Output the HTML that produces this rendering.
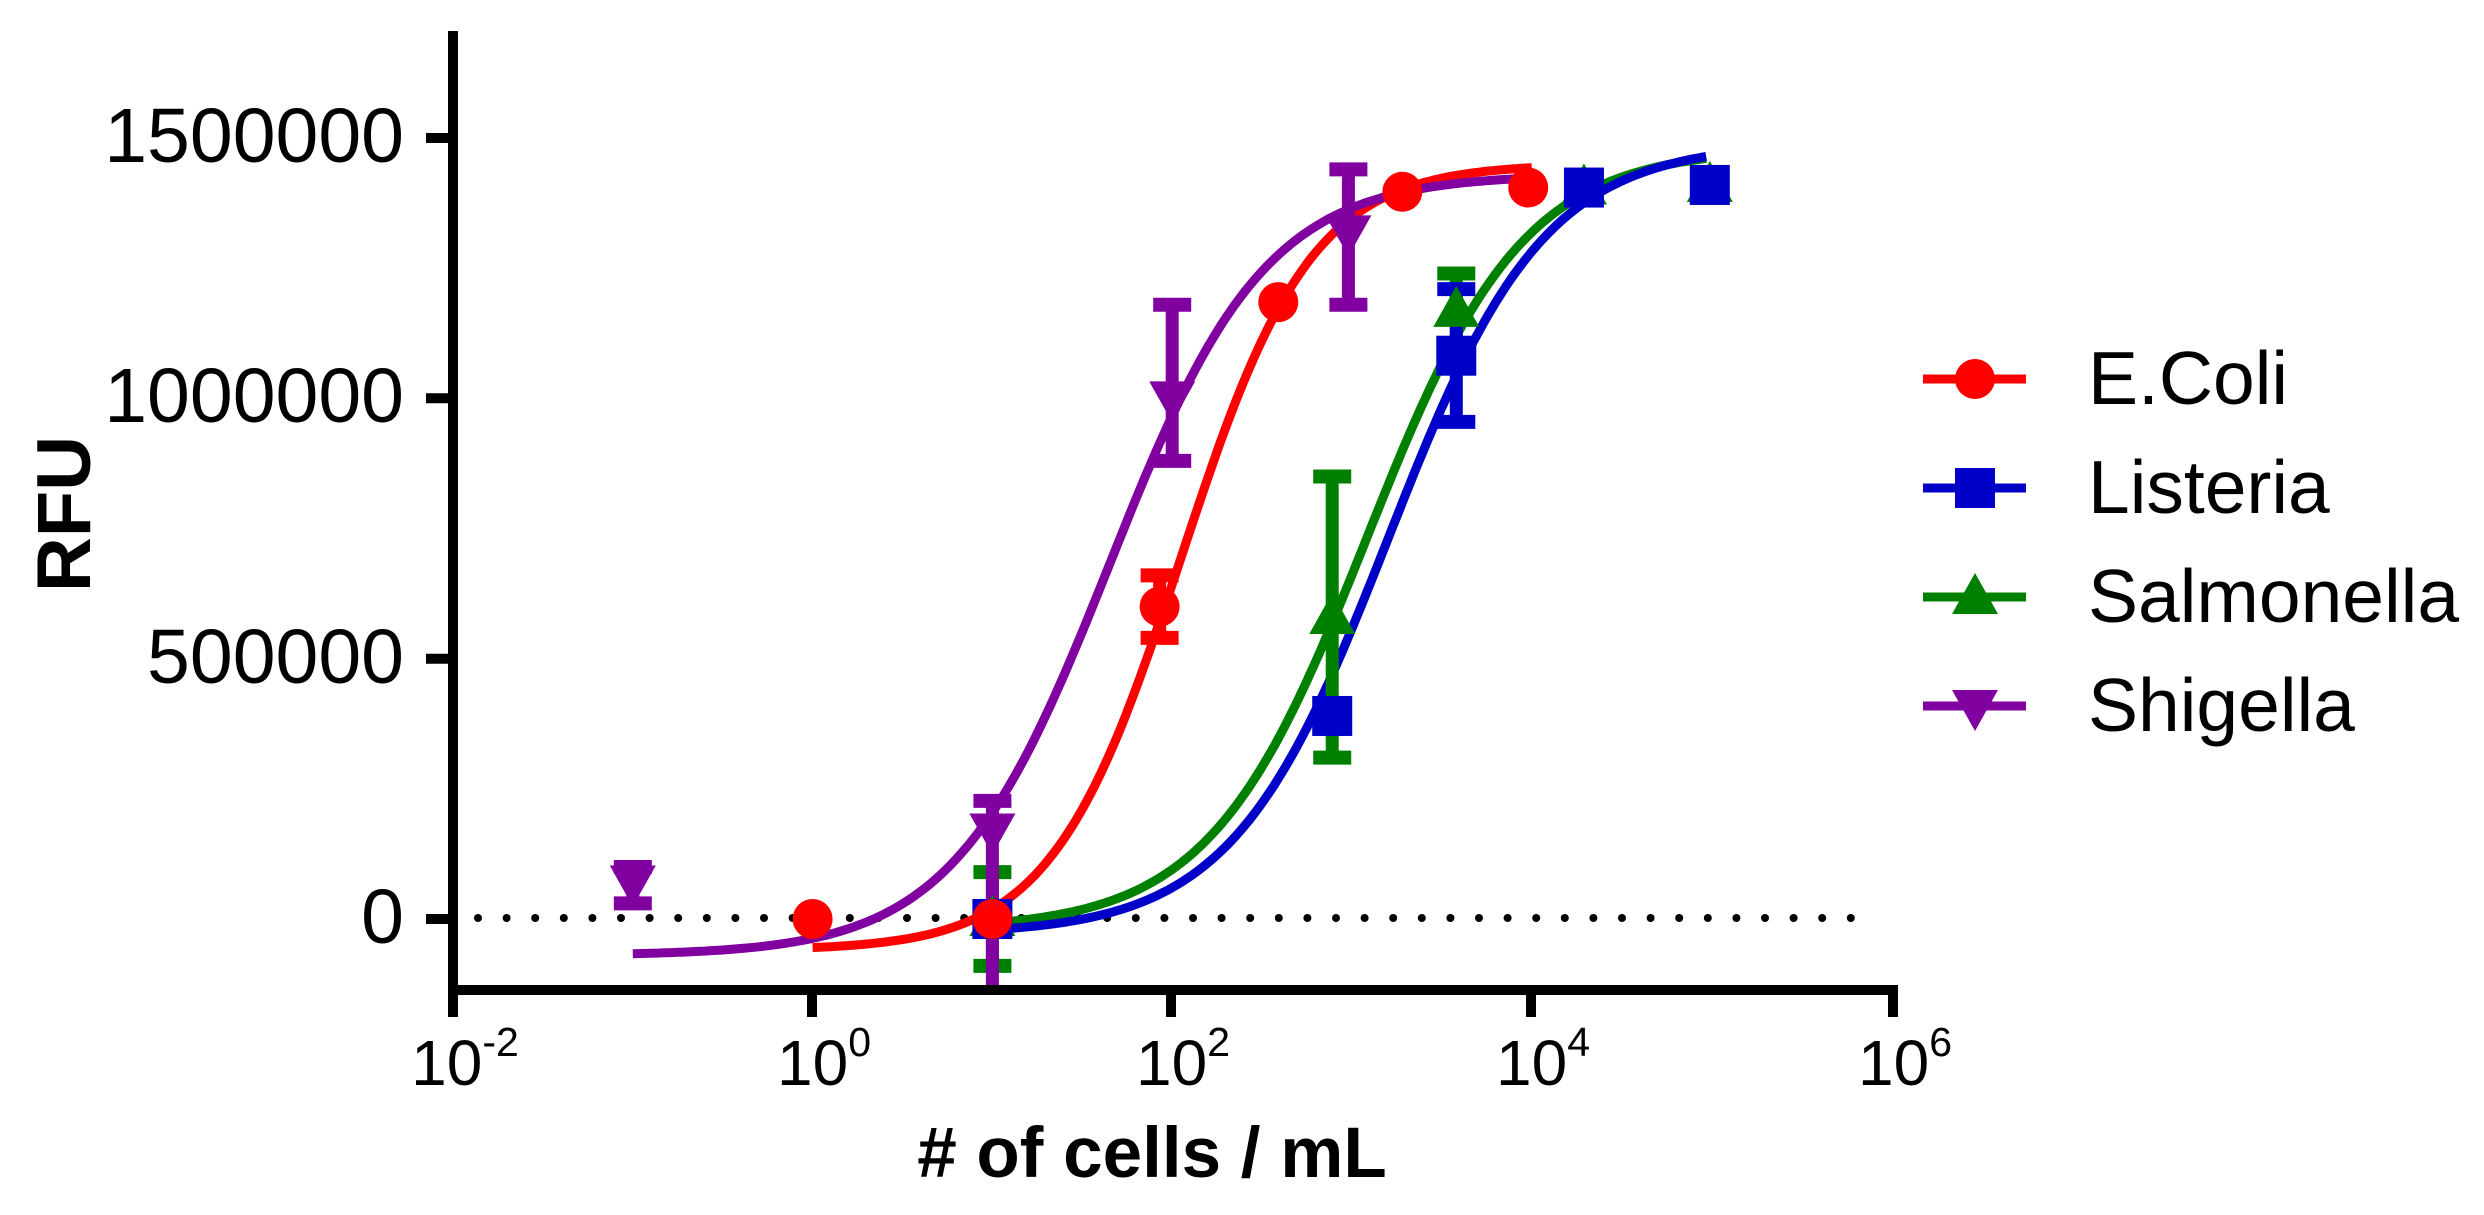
<!DOCTYPE html>
<html><head><meta charset="utf-8">
<style>
html,body{margin:0;padding:0;background:#fff;}
svg{display:block;font-family:"Liberation Sans",Arial,sans-serif;}
</style></head>
<body>
<svg id="s" width="2484" height="1215" viewBox="0 0 2484 1215" xmlns="http://www.w3.org/2000/svg">
<rect width="2484" height="1215" fill="#fff"/>
<g id="plot"></g>
<g stroke="#000" stroke-width="10" fill="none">
<line x1="453" y1="31" x2="453" y2="995"/>
<line x1="448" y1="990" x2="1898" y2="990"/>
<line x1="426" y1="138" x2="453" y2="138"/>
<line x1="426" y1="398.3" x2="453" y2="398.3"/>
<line x1="426" y1="658.7" x2="453" y2="658.7"/>
<line x1="426" y1="919" x2="453" y2="919"/>
<line x1="453" y1="990" x2="453" y2="1017"/>
<line x1="812" y1="990" x2="812" y2="1017"/>
<line x1="1171" y1="990" x2="1171" y2="1017"/>
<line x1="1531" y1="990" x2="1531" y2="1017"/>
<line x1="1893" y1="985" x2="1893" y2="1017"/>
</g>
<g font-size="77" text-anchor="end" fill="#000">
<text x="404" y="162">1500000</text>
<text x="404" y="422">1000000</text>
<text x="404" y="683">500000</text>
<text x="404" y="943">0</text>
</g>
<g font-size="64" fill="#000" text-anchor="middle">
<text x="465" y="1085">10<tspan font-size="41" dy="-29">-2</tspan></text>
<text x="824" y="1085">10<tspan font-size="41" dy="-29">0</tspan></text>
<text x="1183" y="1085">10<tspan font-size="41" dy="-29">2</tspan></text>
<text x="1543" y="1085">10<tspan font-size="41" dy="-29">4</tspan></text>
<text x="1905" y="1085">10<tspan font-size="41" dy="-29">6</tspan></text>
</g>
<text x="1152" y="1177" font-size="71" font-weight="bold" text-anchor="middle"># of cells / mL</text>
<text transform="translate(90,514) rotate(-90)" font-size="76" font-weight="bold" text-anchor="middle">RFU</text>
<g stroke-width="9">
<line x1="1923" y1="379" x2="2026" y2="379" stroke="#ff0000"/>
<circle cx="1975" cy="379" r="20" fill="#ff0000"/>
<line x1="1923" y1="488" x2="2026" y2="488" stroke="#0000c8"/>
<rect x="1955" y="468" width="40" height="40" fill="#0000c8"/>
<line x1="1923" y1="597" x2="2026" y2="597" stroke="#008000"/>
<polygon points="1975,573 1998,614 1952,614" fill="#008000"/>
<line x1="1923" y1="706" x2="2026" y2="706" stroke="#8000a0"/>
<polygon points="1952,690 1998,690 1975,731" fill="#8000a0"/>
</g>
<g font-size="75" fill="#000">
<text x="2088" y="404">E.Coli</text>
<text x="2088" y="513">Listeria</text>
<text x="2088" y="622">Salmonella</text>
<text x="2088" y="731">Shigella</text>
</g>
</svg>
<script>
var X=function(d){return 453+(d+2)*179.8;};
var Y=function(v){return 919-v/500000*260.3;};
var g=document.getElementById('plot'),h='';
for(var x=478;x<=1872;x+=28.6){h+='<circle cx="'+x.toFixed(1)+'" cy="918" r="4" fill="#000"/>';}
function curve(B,T,c,k,x0,x1,col){var p='';for(var i=0;i<=200;i++){var x=x0+(x1-x0)*i/200;var y=B+(T-B)/(1+Math.pow(10,(c-x)*k));p+=(i?'L':'M')+X(x).toFixed(1)+' '+Y(y).toFixed(1);}
h+='<path d="'+p+'" fill="none" stroke="'+col+'" stroke-width="9"/>';}
function eb(d,lo,hi,col){var x=X(d);var y2=Math.min(Y(lo),988);h+='<line x1="'+x+'" y1="'+Y(hi)+'" x2="'+x+'" y2="'+y2+'" stroke="'+col+'" stroke-width="13"/>';
h+='<line x1="'+(x-19)+'" y1="'+Y(hi)+'" x2="'+(x+19)+'" y2="'+Y(hi)+'" stroke="'+col+'" stroke-width="14"/>';
if(Y(lo)<988)h+='<line x1="'+(x-19)+'" y1="'+Y(lo)+'" x2="'+(x+19)+'" y2="'+Y(lo)+'" stroke="'+col+'" stroke-width="14"/>';}
var R='#ff0000',Bl='#0000c8',G='#008000',P='#8000a0';
curve(-20000,1480000,3.08,1.0,1,4.97,G);
curve(-30000,1490000,3.2,1.0,1,4.97,Bl);
curve(-60000,1450000,2.05,1.2,0,4.0,R);
curve(-70000,1430000,1.65,1.0,-1,4.0,P);
eb(1,-90000,90000,G);eb(2.89,310000,850000,G);eb(3.58,1100000,1240000,G);
eb(2.89,370000,410000,Bl);eb(3.58,955000,1210000,Bl);
eb(1.93,540000,660000,R);
eb(1,-200000,227000,P);eb(2,880000,1180000,P);eb(2.98,1180000,1440000,P);eb(-1,30000,100000,P);
function sq(d,v,col){h+='<rect x="'+(X(d)-20)+'" y="'+(Y(v)-20)+'" width="40" height="40" fill="'+col+'"/>';}
function ci(d,v){h+='<circle cx="'+X(d)+'" cy="'+Y(v)+'" r="20" fill="'+R+'"/>';}
function tu(d,v){var x=X(d),y=Y(v);h+='<polygon points="'+x+','+(y-24)+' '+(x+23)+','+(y+17)+' '+(x-23)+','+(y+17)+'" fill="'+G+'"/>';}
function td(d,v){var x=X(d),y=Y(v);h+='<polygon points="'+(x-23)+','+(y-17)+' '+(x+23)+','+(y-17)+' '+x+','+(y+24)+'" fill="'+P+'"/>';}
tu(1,0);tu(2.89,580000);tu(3.58,1170000);tu(4.29,1405000);tu(4.99,1410000);
sq(1,0,Bl);sq(2.89,390000,Bl);sq(3.58,1082000,Bl);sq(4.29,1405000,Bl);sq(4.99,1410000,Bl);
td(-1,70000);td(1,170000);td(2,1000000);td(2.98,1319000);
ci(0,0);ci(1,0);ci(1.93,600000);ci(2.59,1185000);ci(3.28,1397000);ci(3.98,1405000);
g.innerHTML=h;
</script>
</body></html>
